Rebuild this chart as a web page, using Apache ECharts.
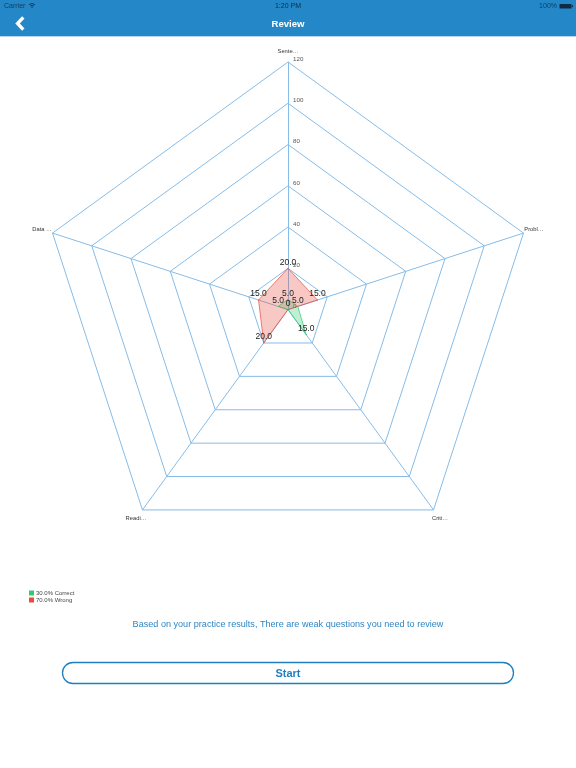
<!DOCTYPE html>
<html>
<head>
<meta charset="utf-8">
<title>Review</title>
<script src="https://cdn.jsdelivr.net/npm/echarts@6/dist/echarts.min.js"></script>
<style>
html, body { margin: 0; padding: 0; background: #fff; }
#chart { width: 576px; height: 768px; }
</style>
</head>
<body>
<div id="chart"></div>
<script>
// listed counter-clockwise from the top, the way the radar lays them out
var categories = ['Sente…', 'Data …', 'Readi…', 'Criti…', 'Probl…'];
var correctValues = [5, 5, 0, 15, 5];
var wrongValues = [20, 15, 20, 0, 15];
var legendNames = ['30.0% Correct', '70.0% Wrong'];
var axisMax = 120;
var axisSplits = 6;

var FONT = '"Liberation Sans", Arimo, sans-serif';
var BLUE = '#2488c8';

function valueLabel(p) {
	return p.value === 0 ? '0' : p.value.toFixed(1);
}

// the two zeros land on the same spot, print only one
function correctLabel(p) {
	return p.value === 0 ? '' : p.value.toFixed(1);
}

var indicators = categories.map(function (name, i) {
	var item = { name: name, min: 0, max: axisMax };
	// only the top spoke carries tick numbers, to the right of the spoke
	if (i === 0) {
		item.axisLabel = {
			show: true, fontSize: 6.2, color: '#555', fontFamily: FONT,
			margin: -5, align: 'left', verticalAlign: 'bottom', hideOverlap: false
		};
	}
	return item;
});

var myChart = echarts.init(document.getElementById('chart'), null, { renderer: 'canvas' });
var option = {
	animation: false,
	textStyle: { fontFamily: FONT },
	color: ['#2ecc71', '#e74c3c'],
	legend: {
		orient: 'vertical',
		left: 29,
		top: 590,
		padding: 0,
		itemGap: 1,
		itemWidth: 5,
		itemHeight: 5,
		icon: 'rect',
		selectedMode: false,
		data: legendNames,
		textStyle: { fontSize: 6, color: '#444', fontFamily: FONT, padding: [0, 0, 0, -3] }
	},
	radar: {
		center: [288, 309.6],
		radius: 247.6,
		startAngle: 90,
		splitNumber: axisSplits,
		shape: 'polygon',
		nameGap: 11,
		axisName: { color: '#333', fontSize: 5.8, fontFamily: FONT, align: 'center', verticalAlign: 'middle' },
		axisLine: { show: true, lineStyle: { color: '#86bce8', width: 1 } },
		splitLine: { show: true, lineStyle: { color: '#86bce8', width: 1 } },
		splitArea: { show: false },
		axisTick: { show: false },
		axisLabel: { show: false },
		indicator: indicators
	},
	series: [{
		type: 'radar',
		symbol: 'circle',
		symbolSize: 1,
		label: {
			show: true,
			position: 'top',
			distance: 1,
			fontSize: 8.5,
			color: '#222',
			fontFamily: FONT,
			formatter: valueLabel
		},
		data: [{
			name: legendNames[0],
			value: correctValues,
			label: { formatter: correctLabel },
			lineStyle: { color: '#2ecc71', width: 1, opacity: 0.7 },
			areaStyle: { color: '#2ecc71', opacity: 0.3 },
			itemStyle: { color: '#2ecc71' }
		}, {
			name: legendNames[1],
			value: wrongValues,
			lineStyle: { color: '#e74c3c', width: 1, opacity: 0.7 },
			areaStyle: { color: '#e74c3c', opacity: 0.3 },
			itemStyle: { color: '#e74c3c' }
		}]
	}],
	// app chrome around the chart
	graphic: [
		{ type: 'rect', z: -1, shape: { x: 0, y: 0, width: 576, height: 36 }, style: { fill: BLUE } },
		{ type: 'rect', z: -1, shape: { x: 0, y: 36, width: 576, height: 1 }, style: { fill: '#b9d7ec' } },
		{ type: 'text', style: { x: 4, y: 6, text: 'Carrier', fill: '#123a5c', font: '7px ' + FONT, textVerticalAlign: 'middle' } },
		{ type: 'text', style: { x: 288, y: 6, text: '1:20 PM', fill: '#0d2b45', font: '7px ' + FONT, textAlign: 'center', textVerticalAlign: 'middle' } },
		{ type: 'text', style: { x: 557, y: 6, text: '100%', fill: '#123a5c', font: '7px ' + FONT, textAlign: 'right', textVerticalAlign: 'middle' } },
		{ type: 'arc', shape: { cx: 32, cy: 8, r: 4.4, startAngle: -2.3, endAngle: -0.84 }, style: { stroke: '#123a5c', fill: 'none', lineWidth: 1 } },
		{ type: 'arc', shape: { cx: 32, cy: 8, r: 2.6, startAngle: -2.3, endAngle: -0.84 }, style: { stroke: '#123a5c', fill: 'none', lineWidth: 1 } },
		{ type: 'circle', shape: { cx: 32, cy: 7.2, r: 0.7 }, style: { fill: '#123a5c' } },
		{ type: 'rect', shape: { x: 559.5, y: 4, width: 12, height: 4.5 }, style: { fill: '#0d2b45' } },
		{ type: 'rect', shape: { x: 572, y: 5.2, width: 1, height: 2 }, style: { fill: '#0d2b45' } },
		{ type: 'polyline', shape: { points: [[23.3, 17.3], [17.5, 23.5], [23.3, 29.7]] }, style: { stroke: '#fff', fill: 'none', lineWidth: 3.3 } },
		{ type: 'text', style: { x: 288, y: 24, text: 'Review', fill: '#fff', font: 'bold 9.6px ' + FONT, textAlign: 'center', textVerticalAlign: 'middle' } },
		{ type: 'text', style: { x: 288, y: 624.5, text: 'Based on your practice results, There are weak questions you need to review', fill: '#2f86c5', font: '9.1px ' + FONT, textAlign: 'center', textVerticalAlign: 'middle' } },
		{ type: 'rect', shape: { x: 62.5, y: 662.5, width: 451, height: 21, r: 10.5 }, style: { fill: '#fff', stroke: '#1f7fc0', lineWidth: 1.3 } },
		{ type: 'text', z: 101, style: { x: 288, y: 673.5, text: 'Start', fill: '#1f7fc0', font: 'bold 11px ' + FONT, textAlign: 'center', textVerticalAlign: 'middle' } }
	]
};
myChart.setOption(option);
</script>
</body>
</html>
